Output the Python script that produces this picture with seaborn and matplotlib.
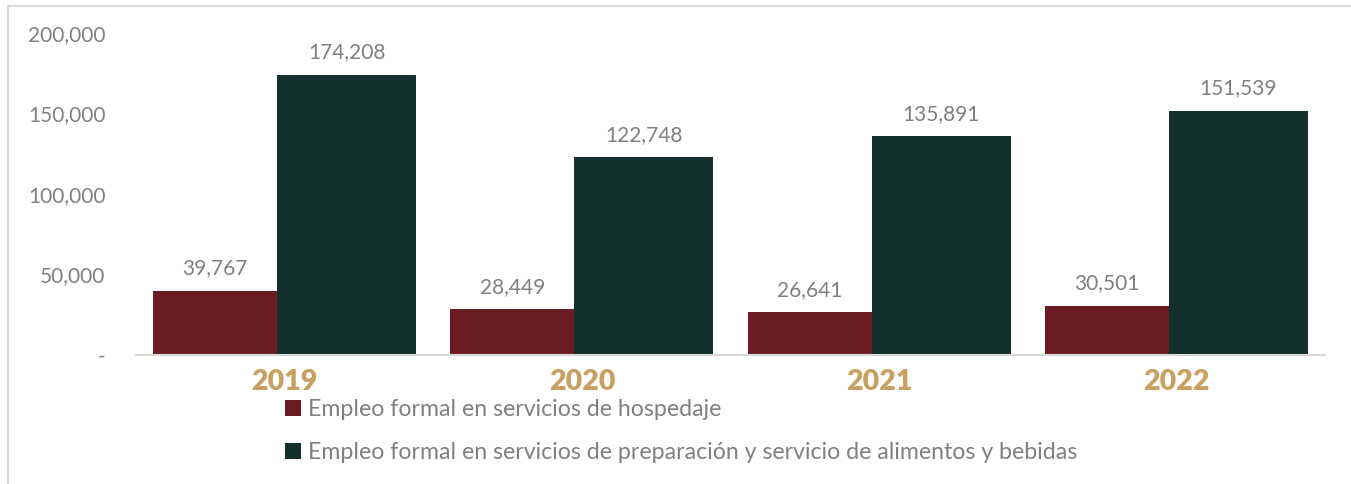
import pandas as pd
import numpy as np
import matplotlib.pyplot as plt
import seaborn as sns
from matplotlib.lines import Line2D
from matplotlib.patches import Patch
from matplotlib.ticker import FuncFormatter

# Data
years = ["2019", "2020", "2021", "2022"]
hospedaje = [39767, 28449, 26641, 30501]
alimentos = [174208, 122748, 135891, 151539]
series_names = [
    "Empleo formal en servicios de hospedaje",
    "Empleo formal en servicios de preparación y servicio de alimentos y bebidas",
]

df = pd.DataFrame({
    "year": years * 2,
    "value": hospedaje + alimentos,
    "serie": [series_names[0]] * 4 + [series_names[1]] * 4,
})

red = "#6A1C22"
green = "#13302C"
gold = "#C9A061"
gray = "#808080"

sns.set_theme(style="white")
plt.rcParams["font.family"] = ["Lato", "DejaVu Sans"]

fig = plt.figure(figsize=(13.51, 4.84), dpi=100)
ax = fig.add_axes([136 / 1351, 1 - 355 / 484, 1189 / 1351, 322 / 484])

sns.barplot(data=df, x="year", y="value", hue="serie", order=years,
            hue_order=series_names, palette=[red, green], saturation=1,
            legend=False, ax=ax)

# bars in the reference are a bit uneven: red narrower than green
for i, p in enumerate(ax.patches):
    c = i % 4
    if i < 4:
        p.set_x(c - 0.4425)
        p.set_width(0.4175)
    else:
        p.set_x(c - 0.025)
        p.set_width(0.4675)
    p.set_edgecolor("none")

for cont in ax.containers:
    ax.bar_label(cont, labels=[f"{v:,.0f}" for v in cont.datavalues],
                 padding=9, fontsize=15, color=gray)

ax.set_ylim(0, 200000)
ax.set_xlim(-0.5, 3.5)
ax.set_yticks([0, 50000, 100000, 150000, 200000])
ax.yaxis.set_major_formatter(FuncFormatter(lambda v, _: "-" if v == 0 else f"{v:,.0f}"))
ax.tick_params(axis="y", labelsize=15, labelcolor=gray, length=0, pad=22)
ax.set_xticks(range(len(years)), labels=years, fontweight="heavy", fontsize=20.5, color=gold)
ax.tick_params(axis="x", length=0, pad=10)
ax.set_xlabel("")
ax.set_ylabel("")

for s in ["top", "right", "left"]:
    ax.spines[s].set_visible(False)
ax.spines["bottom"].set_color("#D9D9D9")
ax.spines["bottom"].set_linewidth(1.5)

# outer frame (top and left edges visible)
fig.add_artist(Line2D([8 / 1351, 8 / 1351], [0, 1 - 6 / 484], color="#D9D9D9", lw=1.5))
fig.add_artist(Line2D([8 / 1351, 1], [1 - 6 / 484, 1 - 6 / 484], color="#D9D9D9", lw=1.5))

handles = [Patch(facecolor=red, edgecolor="none"), Patch(facecolor=green, edgecolor="none")]
fig.legend(handles, series_names, loc="upper left", bbox_to_anchor=(285 / 1351, 1 - 399 / 484),
           frameon=False, fontsize=16.7, labelcolor=gray, handlelength=0.7, handleheight=0.7,
           handletextpad=0.3, labelspacing=0.95, borderaxespad=0, borderpad=0)

fig.savefig("out.png", dpi=100)
